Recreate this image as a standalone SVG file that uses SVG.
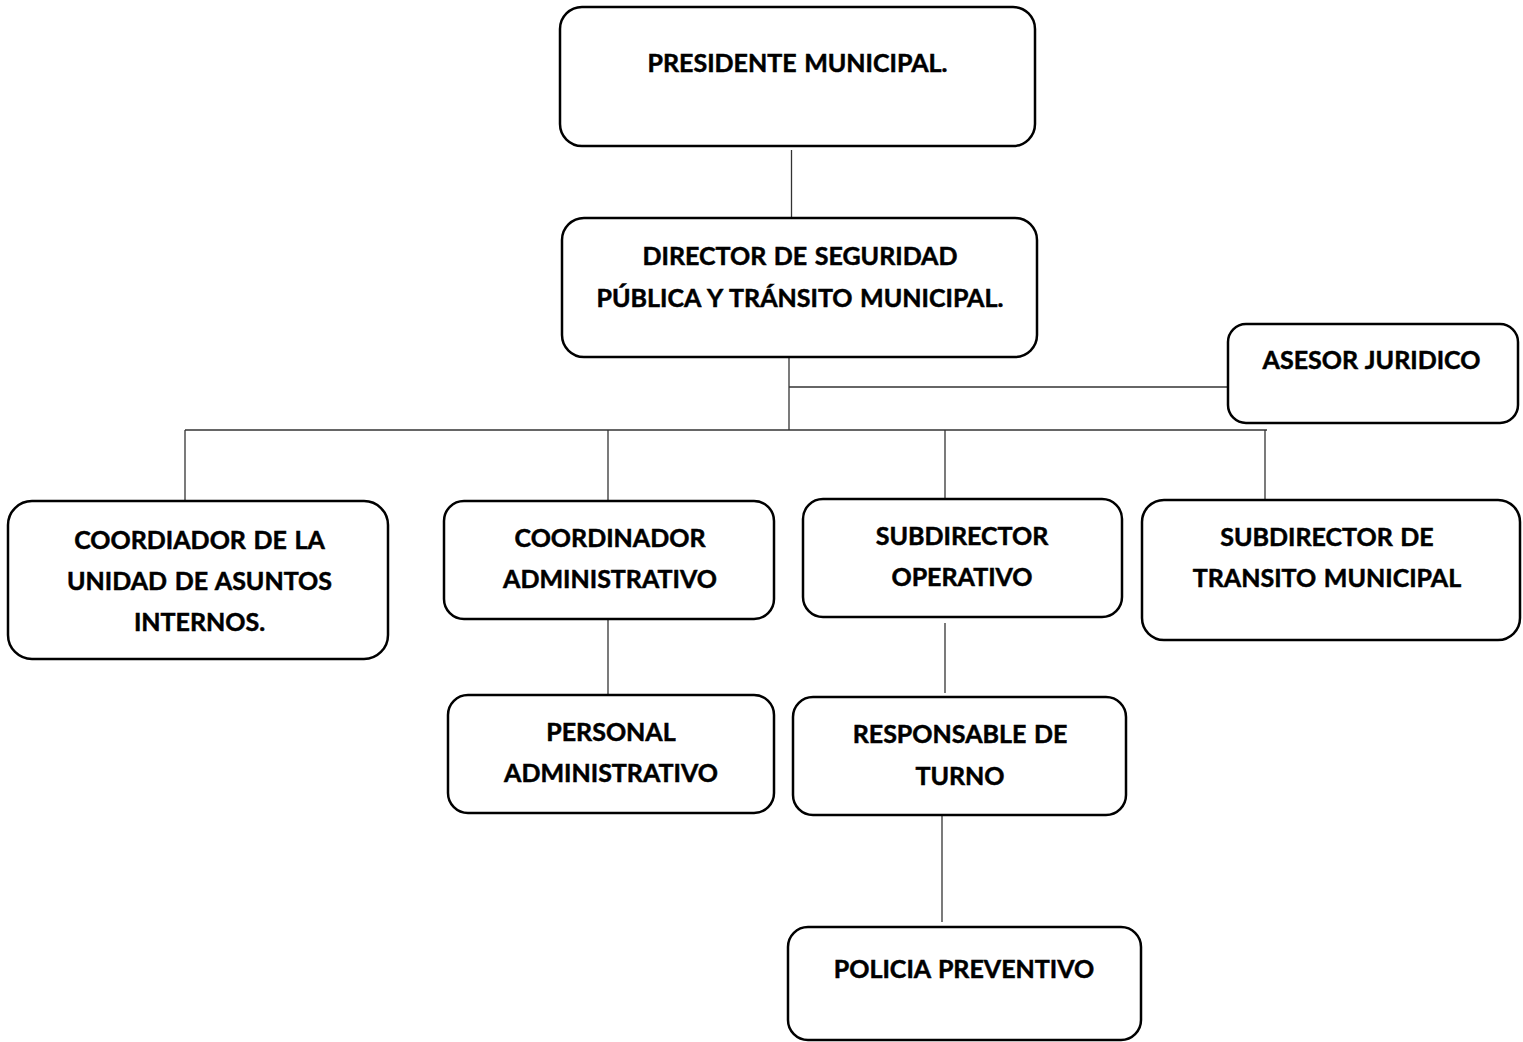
<svg xmlns="http://www.w3.org/2000/svg" width="1523" height="1042" viewBox="0 0 1523 1042">
<style>
.box{fill:#fff;stroke:#000;stroke-width:2.5}
.lbl{font-family:Lato,"Open Sans","Liberation Sans",sans-serif;font-weight:bold;font-size:25px;fill:#000;stroke:#000;stroke-width:0.5;text-anchor:middle;word-spacing:1.5px}
.con{stroke:#333;stroke-width:1.3;fill:none}
</style>
<rect width="1523" height="1042" fill="#fff"/>
<g id="connectors">
<path class="con" d="M791.5,150V217"/>
<path class="con" d="M789,357V430"/>
<path class="con" d="M789,387H1228"/>
<path class="con" d="M185,430H1267"/>
<path class="con" d="M185,430V501"/>
<path class="con" d="M608,430V501"/>
<path class="con" d="M945,430V499"/>
<path class="con" d="M1265,430V499"/>
<path class="con" d="M608,619V695"/>
<path class="con" d="M945,623V693"/>
<path class="con" d="M942,815V922"/>
</g>
<g id="presidente">
<rect class="box" x="560" y="7" width="475" height="139" rx="22"/>
<text class="lbl" x="797.5" y="72">PRESIDENTE MUNICIPAL.</text>
</g>
<g id="director">
<rect class="box" x="562" y="218" width="475" height="139" rx="22"/>
<text class="lbl" x="800" y="265">DIRECTOR DE SEGURIDAD</text>
<text class="lbl" x="800" y="307">PÚBLICA Y TRÁNSITO MUNICIPAL.</text>
</g>
<g id="asesor">
<rect class="box" x="1228" y="324" width="290" height="99" rx="18"/>
<text class="lbl" x="1371.5" y="369">ASESOR JURIDICO</text>
</g>
<g id="asuntos-internos">
<rect class="box" x="8" y="501" width="380" height="158" rx="24"/>
<text class="lbl" x="199.5" y="549">COORDIADOR DE LA</text>
<text class="lbl" x="199.5" y="590">UNIDAD DE ASUNTOS</text>
<text class="lbl" x="199.5" y="631">INTERNOS.</text>
</g>
<g id="coord-admin">
<rect class="box" x="444" y="501" width="330" height="118" rx="20"/>
<text class="lbl" x="610" y="547">COORDINADOR</text>
<text class="lbl" x="610" y="588">ADMINISTRATIVO</text>
</g>
<g id="sub-operativo">
<rect class="box" x="803" y="499" width="319" height="118" rx="20"/>
<text class="lbl" x="962" y="545">SUBDIRECTOR</text>
<text class="lbl" x="962" y="586">OPERATIVO</text>
</g>
<g id="sub-transito">
<rect class="box" x="1142" y="500" width="378" height="140" rx="22"/>
<text class="lbl" x="1327" y="546">SUBDIRECTOR DE</text>
<text class="lbl" x="1327" y="587">TRANSITO MUNICIPAL</text>
</g>
<g id="personal-admin">
<rect class="box" x="448" y="695" width="326" height="118" rx="20"/>
<text class="lbl" x="611" y="741">PERSONAL</text>
<text class="lbl" x="611" y="782">ADMINISTRATIVO</text>
</g>
<g id="responsable">
<rect class="box" x="793" y="697" width="333" height="118" rx="20"/>
<text class="lbl" x="960" y="743">RESPONSABLE DE</text>
<text class="lbl" x="960" y="785">TURNO</text>
</g>
<g id="policia">
<rect class="box" x="788" y="927" width="353" height="113" rx="20"/>
<text class="lbl" x="964" y="978">POLICIA PREVENTIVO</text>
</g>
</svg>
